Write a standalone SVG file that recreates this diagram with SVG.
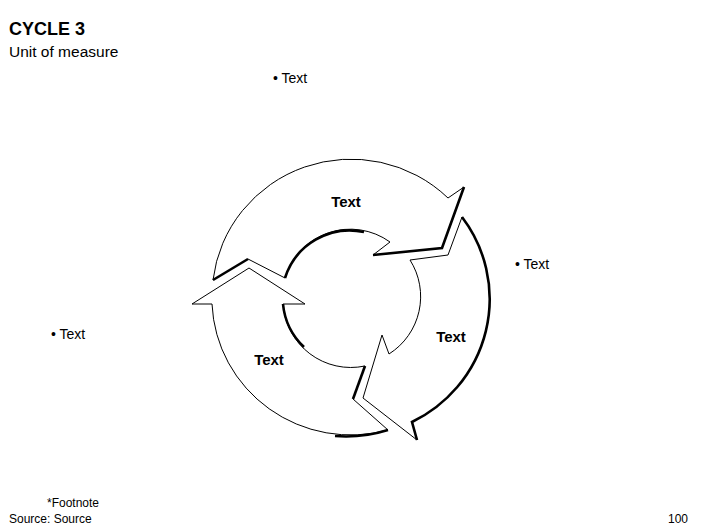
<svg xmlns="http://www.w3.org/2000/svg" width="706" height="529" viewBox="0 0 706 529">
<style>
.shape{fill:#fff;stroke:#000;stroke-width:1;stroke-linejoin:miter}
.thick{fill:none;stroke:#000;stroke-width:2.6;stroke-linejoin:miter;stroke-linecap:butt}
.t{font-family:"Liberation Sans",Arial,sans-serif;fill:#000}
.lbl{font-family:"Liberation Sans",Arial,sans-serif;font-weight:bold;font-size:15px;fill:#000;text-anchor:middle}
.bul{font-family:"Liberation Sans",Arial,sans-serif;font-size:14px;fill:#000}
.small{font-family:"Liberation Sans",Arial,sans-serif;font-size:12px;fill:#000}
</style>
<rect width="706" height="529" fill="#fff"/>
<g id="title">
<text class="t" x="9" y="35" font-size="18" font-weight="bold">CYCLE 3</text>
<text class="t" x="9" y="57" font-size="15.5">Unit of measure</text>
</g>
<g id="arrow-top">
<path class="shape" d="M213,280 A139,137 0 0 1 448,198 L464,187 L442,248 L373,255 L390,242 A68,68 0 0 0 285,278 L248,259 Z"/>
<path class="thick" d="M213,280 L248,259"/>
<path class="thick" d="M285,278 A68,68 0 0 1 364,232"/>
<path class="thick" d="M464,187 L442,248 L373,255"/>
<text class="lbl" x="346" y="207">Text</text>
</g>
<g id="arrow-right">
<path class="shape" d="M462,217 A139,137 0 0 1 412,422 L417,440 L363,398 L382,335 L389,354 A68,68 0 0 0 410,260 L448,255 Z"/>
<path class="thick" d="M462,217 A139,137 0 0 1 412,422 L417,440"/>
<text class="lbl" x="451" y="342">Text</text>
</g>
<g id="arrow-left">
<path class="shape" d="M388,430 A139,137 0 0 1 212,304 L192,304 L249,268 L305,304 L283,304 A68,68 0 0 0 365,366 L353,399 Z"/>
<path class="thick" d="M388,430 A139,137 0 0 1 335,436"/>
<path class="thick" d="M283,304 A68,68 0 0 0 304,347"/>
<path class="thick" d="M365,366 L353,399"/>
<text class="lbl" x="269" y="365">Text</text>
</g>
<g id="bullet-top">
<text class="bul" x="273" y="83">• Text</text>
</g>
<g id="bullet-right">
<text class="bul" x="515" y="269">• Text</text>
</g>
<g id="bullet-left">
<text class="bul" x="51" y="339">• Text</text>
</g>
<g id="connectors"></g>
<g id="footer">
<text class="small" x="47" y="507">*Footnote</text>
<text class="small" x="9" y="523">Source: Source</text>
<text class="small" x="688" y="523" text-anchor="end">100</text>
</g>
</svg>
